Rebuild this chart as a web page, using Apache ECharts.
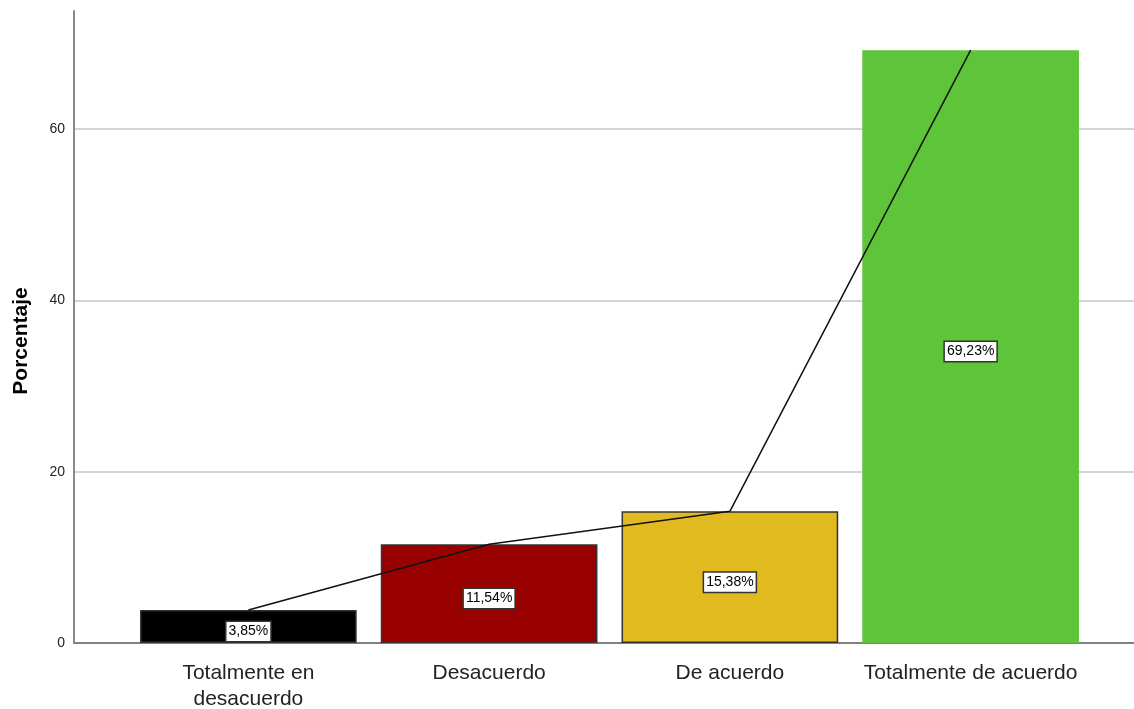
<!DOCTYPE html>
<html>
<head>
<meta charset="utf-8">
<script src="https://cdn.jsdelivr.net/npm/echarts@6/dist/echarts.min.js"></script>
<style>
html,body{margin:0;padding:0;background:#fff;}
#chart{width:1134px;height:709px;}
</style>
</head>
<body>
<div id="chart"></div>
<script>
const categories = ['Totalmente en\ndesacuerdo', 'Desacuerdo', 'De acuerdo', 'Totalmente de acuerdo'];
const percentages = [3.85, 11.54, 15.38, 69.23];
const barColors = ['#000000', '#990000', '#e0ba1f', '#5ec43a'];
const yTicks = [0, 20, 40, 60];
const yAxisName = 'Porcentaje';

const FONT = '"Liberation Sans", Arial, sans-serif';
const Y_MIN = 0, Y_MAX = 73.8, Y_INT = 20;

const chart = echarts.init(document.getElementById('chart'), null, {renderer: 'canvas'});

const option = {
  animation: false,
  backgroundColor: '#ffffff',
  grid: [
    {left: 74, right: 0, top: 11, bottom: 66, containLabel: false, outerBoundsMode: 'none'},
    {left: 128, right: 43, top: 11, bottom: 66, containLabel: false, outerBoundsMode: 'none'}
  ],
  xAxis: [
    {
      type: 'value', gridIndex: 0, min: 0, max: 1,
      axisLine: {show: true, lineStyle: {color: '#808080', width: 2}},
      axisTick: {show: false}, axisLabel: {show: false}, splitLine: {show: false}
    },
    {
      type: 'category', gridIndex: 1, data: categories,
      axisLine: {show: false}, axisTick: {show: false}, splitLine: {show: false},
      axisLabel: {
        color: '#222222', fontFamily: FONT, fontSize: 21, lineHeight: 26,
        margin: 17, interval: 0
      }
    }
  ],
  yAxis: [
    {
      type: 'value', gridIndex: 0, min: Y_MIN, max: Y_MAX, interval: Y_INT,
      name: yAxisName, nameLocation: 'middle', nameGap: 42,
      nameTextStyle: {
        color: '#000000', fontFamily: FONT, fontSize: 21, fontWeight: 'bold',
        padding: [0, 28, 0, 0]
      },
      axisLine: {show: true, lineStyle: {color: '#8a8a8a', width: 2}},
      axisTick: {show: false},
      axisLabel: {
        color: '#222222', fontFamily: FONT, fontSize: 14, margin: 9,
        showMaxLabel: false,
        formatter: v => (yTicks.indexOf(v) >= 0 ? String(v) : '')
      },
      splitLine: {show: true, showMinLine: false, showMaxLine: false, lineStyle: {color: '#d4d4d4', width: 2}}
    },
    {
      type: 'value', gridIndex: 1, min: Y_MIN, max: Y_MAX, interval: Y_INT,
      show: false, splitLine: {show: false}
    }
  ],
  series: [
    {
      type: 'bar', xAxisIndex: 1, yAxisIndex: 1,
      barCategoryGap: '10%',
      data: percentages.map((v, i) => ({
        value: v,
        itemStyle: {
          color: barColors[i],
          borderColor: i === 3 ? '#7fd45f' : '#333333',
          borderWidth: i === 3 ? 0 : 1.5
        }
      })),
      label: {
        show: true, position: 'inside', offset: [0, 5],
        formatter: p => p.value.toFixed(2).replace('.', ',') + '%',
        color: '#000000', fontFamily: FONT, fontSize: 14,
        backgroundColor: '#ffffff', borderColor: '#333333', borderWidth: 1.5,
        padding: [3, 2, 2, 2]
      },
      z: 2
    },
    {
      type: 'line', xAxisIndex: 1, yAxisIndex: 1,
      data: percentages,
      symbol: 'none',
      lineStyle: {color: '#111111', width: 1.5},
      z: 3
    }
  ]
};
chart.setOption(option);
</script>
</body>
</html>
